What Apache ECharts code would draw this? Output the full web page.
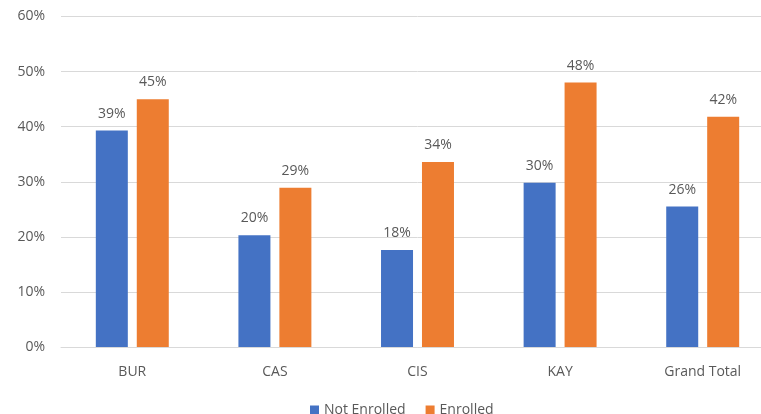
<!DOCTYPE html>
<html>
<head>
<meta charset="utf-8">
<script src="https://cdn.jsdelivr.net/npm/echarts@6/dist/echarts.min.js"></script>
<style>
  html, body { margin: 0; padding: 0; background: #fff; overflow: hidden; }
  /* the original plot runs past the right edge of the picture */
  #chart { width: 775px; height: 414px; }
</style>
</head>
<body>
<div id="chart"></div>
<script>
// 数据
const categories = ["BUR", "CAS", "CIS", "KAY", "Grand Total"];
const notEnrolled = [0.393, 0.203, 0.176, 0.298, 0.255];
const enrolled = [0.450, 0.289, 0.336, 0.480, 0.418];
const seriesNames = ["Not Enrolled", "Enrolled"];
const yTicks = { min: 0, max: 0.6, interval: 0.1 };

const pct = (v) => Math.round(v * 100) + "%";
const font = "'Open Sans', 'Noto Sans', sans-serif";

const myChart = echarts.init(document.getElementById("chart"));
myChart.setOption({
  animation: false,
  textStyle: { fontFamily: font, color: "#595959" },
  grid: { left: 61, right: 1, top: 16.5, bottom: 67 },
  legend: {
    top: 398,
    left: 305,
    itemWidth: 9,
    itemHeight: 9,
    itemGap: 20,
    icon: "rect",
    textStyle: { fontSize: 14, color: "#595959", fontFamily: font },
    data: seriesNames,
  },
  xAxis: {
    type: "category",
    data: categories,
    axisTick: { show: false },
    axisLine: { lineStyle: { color: "#d9d9d9" } },
    axisLabel: { fontSize: 14, color: "#595959", margin: 18 },
  },
  yAxis: {
    type: "value",
    min: yTicks.min,
    max: yTicks.max,
    interval: yTicks.interval,
    axisLine: { show: false },
    axisTick: { show: false },
    splitLine: { lineStyle: { color: "#d9d9d9" } },
    axisLabel: {
      fontSize: 14,
      color: "#595959",
      margin: 16,
      formatter: (v) => pct(v),
    },
  },
  series: [
    {
      name: seriesNames[0],
      type: "bar",
      data: notEnrolled,
      barWidth: 32,
      barGap: "28%",
      itemStyle: { color: "#4472c4" },
      label: {
        show: true,
        position: "top",
        distance: 10,
        fontSize: 14,
        color: "#595959",
        formatter: (p) => pct(p.value),
      },
    },
    {
      name: seriesNames[1],
      type: "bar",
      data: enrolled,
      barWidth: 32,
      itemStyle: { color: "#ed7d31" },
      label: {
        show: true,
        position: "top",
        distance: 10,
        fontSize: 14,
        color: "#595959",
        formatter: (p) => pct(p.value),
      },
    },
  ],
});
</script>
</body>
</html>
